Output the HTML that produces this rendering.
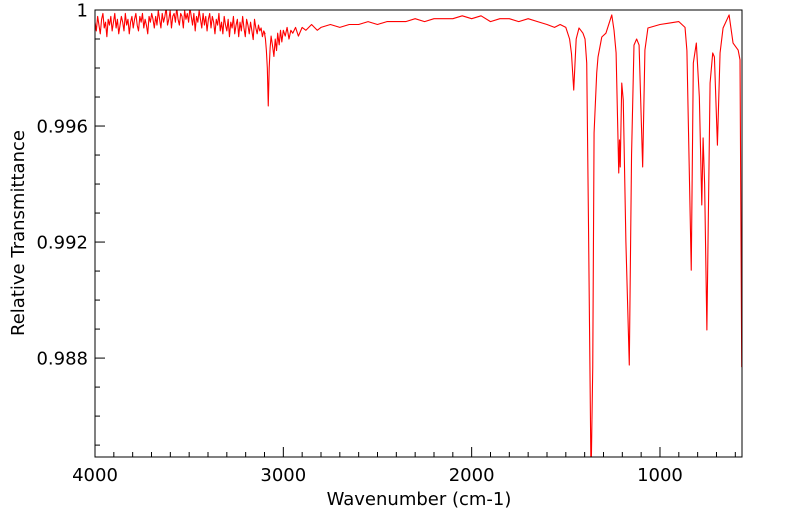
<!DOCTYPE html>
<html><head><meta charset="utf-8"><style>
html,body{margin:0;padding:0;background:#fff;}
svg{display:block;font-family:"DejaVu Sans","Liberation Sans",sans-serif;}
</style></head><body>
<svg id="chart" width="799" height="516" viewBox="0 0 799 516" xmlns="http://www.w3.org/2000/svg">
<defs><clipPath id="plotclip"><rect x="95" y="10" width="647" height="447"/></clipPath></defs>
<g id="ticks"></g>
<g id="labels"></g>
<path id="line" fill="none" stroke="#ff0000" stroke-width="1.1" stroke-linejoin="round" clip-path="url(#plotclip)"/>
<rect x="95" y="10" width="647" height="447" fill="none" stroke="#000" stroke-width="1"/>
<text x="419" y="505" font-size="18" text-anchor="middle">Wavenumber (cm-1)</text>
<text x="24" y="233" font-size="18" text-anchor="middle" transform="rotate(-90 24 233)">Relative Transmittance</text>
</svg>
<script>
// noise-region deviations (x1e-4) from 0.99948, 4000 -> 3104 step 7
const noise = [1,-2,3,0,-3,2,4,-1,1,-4,2,0,3,-2,1,4,-1,2,-3,0,3,1,-2,4,0,2,-3,1,3,-1,2,4,0,-2,3,1,4,-1,2,0,-3,3,1,4,2,-1,3,0,5,2,-1,4,1,3,6,0,2,5,-1,3,4,1,6,2,0,4,3,-1,5,2,4,1,6,3,0,4,-2,3,1,5,2,-1,4,0,3,-2,2,4,-1,3,1,-3,2,0,4,-2,1,-3,3,0,-2,2,-4,1,-1,3,-3,0,2,-4,1,-2,3,-1,-4,2,0,-3,1,-2,-5,2,-1,-3,0,-2,-1,-4,-2,-3];
const midWn = [3100,3095,3090,3085,3080,3075,3070,3065,3058,3050,3043,3036,3030,3022,3015,3008,3000,2990,2980,2970,2960,2950,2935,2920,2900,2880,2850,2820,2800,2750,2700,2650,2600,2550,2500,2450,2400,2350,2300,2250,2200,2150,2100,2050,2000,1950,1900,1850,1800,1750,1700,1650,1600,1560,1530,1500,1480];
const midT  = [0.9992,0.9990,0.9986,0.9980,0.99669,0.9980,0.9987,0.9991,0.9988,0.9984,0.9990,0.9986,0.9992,0.9988,0.9993,0.9989,0.9993,0.9991,0.9994,0.9990,0.9993,0.9992,0.9994,0.9991,0.9994,0.9993,0.9995,0.9993,0.9994,0.9995,0.9994,0.9995,0.9995,0.9996,0.9995,0.9996,0.9996,0.9996,0.9997,0.9996,0.9997,0.9997,0.9997,0.9998,0.9997,0.9998,0.9996,0.9997,0.9997,0.9996,0.9997,0.9996,0.9995,0.9994,0.9995,0.9994,0.9990];
const bandWn = [1470,1458,1445,1430,1409,1398,1389,1380,1372,1366,1357,1350,1336,1329,1309,1287,1256,1244,1233,1219,1215,1211,1203,1195,1181,1163,1151,1138,1124,1111,1092,1080,1064,1000,950,900,867,857,834,823,807,791,778,771,763,751,734,720,711,695,681,665,633,612,585,575,566];
const bandT  = [0.9985,0.99724,0.9990,0.99938,0.99920,0.99900,0.99817,0.99285,0.98769,0.9838,0.98769,0.99576,0.99783,0.99838,0.99907,0.99920,0.99983,0.99930,0.99852,0.99438,0.99552,0.99459,0.99748,0.99690,0.99200,0.98776,0.99500,0.99879,0.99900,0.99879,0.99459,0.99862,0.99938,0.99950,0.99955,0.99960,0.99940,0.99860,0.99103,0.99817,0.99886,0.99700,0.99328,0.99559,0.99400,0.98897,0.99748,0.99852,0.99838,0.99534,0.99852,0.99938,0.99983,0.99886,0.99862,0.99828,0.98769];
const xTicks = [4000,3000,2000,1000];
const yTicks = [1,0.996,0.992,0.988];
const yTickLabels = ["1","0.996","0.992","0.988"];

const X0=95,X1=742,Y0=10,Y1=457, WMAX=4000, WMIN=564.5, TMAX=1, TMIN=0.98459;
function xs(w){return X0+(WMAX-w)/(WMAX-WMIN)*(X1-X0);}
function ys(t){return Y0+(TMAX-t)/(TMAX-TMIN)*(Y1-Y0);}
const NS="http://www.w3.org/2000/svg";

let wn=[],tr=[];
noise.forEach((n,i)=>{wn.push(4000-7*i);tr.push(0.99948+n*1e-4);});
midWn.forEach((w,i)=>{wn.push(w);tr.push(midT[i]);});
bandWn.forEach((w,i)=>{wn.push(w);tr.push(bandT[i]);});
let d="";
wn.forEach((w,i)=>{d+=(i?"L":"M")+xs(w).toFixed(2)+" "+ys(tr[i]).toFixed(2);});
document.getElementById('line').setAttribute('d',d);

const tg=document.getElementById('ticks'), lg=document.getElementById('labels');
function line(x1,y1,x2,y2,name){const l=document.createElementNS(NS,'line');
l.setAttribute('x1',x1);l.setAttribute('y1',y1);l.setAttribute('x2',x2);l.setAttribute('y2',y2);
l.setAttribute('stroke','#000');l.setAttribute('stroke-width','1');


tg.appendChild(l);}
function text(x,y,s,anchor,name){const t=document.createElementNS(NS,'text');
t.setAttribute('x',x);t.setAttribute('y',y);t.setAttribute('font-size','18');t.setAttribute('text-anchor',anchor);t.textContent=s;


lg.appendChild(t);}
for(let w=4000;w>=600;w-=100){const x=xs(w);const major=w%1000===0;line(x,Y1,x,Y1-(major?10:5),major?'x-major-tick':'x-minor-tick');}
xTicks.forEach(w=>text(xs(w),481,String(w),'middle','x-tick-label'));
for(let k=0;k<=15;k++){const t=1-k*0.001;const y=ys(t);const major=k%4===0;line(X0,y,X0+(major?10:5),y,major?'y-major-tick':'y-minor-tick');}
yTicks.forEach((t,i)=>text(88,ys(t)+6.5,yTickLabels[i],'end','y-tick-label'));
</script>
</body></html>
